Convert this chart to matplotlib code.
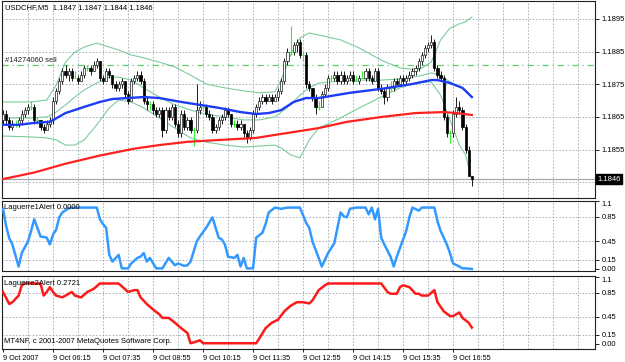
import numpy as np
import matplotlib.pyplot as plt
from matplotlib.transforms import blended_transform_factory

plt.rcParams['font.family'] = ['Liberation Sans', 'DejaVu Sans']

# USDCHF M5, bar 0 = 9 Oct 2007 04:55
opens = [1.1864, 1.1866, 1.1864, 1.1862, 1.1863, 1.1863, 1.1864, 1.1866, 1.1867, 1.1868,
         1.1868, 1.1864, 1.1864, 1.1862, 1.1861, 1.1863, 1.1864, 1.1870, 1.1873, 1.1876,
         1.1879, 1.1878, 1.1879, 1.1877, 1.1877, 1.1876, 1.1878, 1.1880, 1.1880, 1.1879,
         1.1881, 1.1882, 1.1877, 1.1876, 1.1879, 1.1878, 1.1875, 1.1874, 1.1875, 1.1876,
         1.1872, 1.1870, 1.1876, 1.1877, 1.1878, 1.1876, 1.1870, 1.1869, 1.1869, 1.1867,
         1.1866, 1.1867, 1.1861, 1.1867, 1.1865, 1.1868, 1.1863, 1.1860, 1.1866, 1.1862,
         1.1864, 1.1861, 1.1861, 1.1867, 1.1868, 1.1868, 1.1866, 1.1865, 1.1861, 1.1862,
         1.1864, 1.1865, 1.1867, 1.1866, 1.1863, 1.1863, 1.1862, 1.1863, 1.1860, 1.1859,
         1.1861, 1.1866, 1.1868, 1.1870, 1.1871, 1.1870, 1.1871, 1.1870, 1.1871, 1.1873,
         1.1876, 1.1882, 1.1885, 1.1885, 1.1887, 1.1888, 1.1884, 1.1884, 1.1875, 1.1874,
         1.1871, 1.1868, 1.1868, 1.1872, 1.1874, 1.1877, 1.1877, 1.1878, 1.1876, 1.1878,
         1.1876, 1.1877, 1.1878, 1.1876, 1.1876, 1.1877, 1.1877, 1.1879, 1.1877, 1.1876,
         1.1879, 1.1874, 1.1873, 1.1871, 1.1874, 1.1874, 1.1876, 1.1875, 1.1877, 1.1876,
         1.1877, 1.1878, 1.1879, 1.1880, 1.1882, 1.1884, 1.1886, 1.1887, 1.1888, 1.1880,
         1.1878, 1.1877, 1.1865, 1.1860, 1.1860, 1.1866, 1.1868, 1.1867, 1.1862, 1.1855,
         1.1847]
highs = [1.1867, 1.1867, 1.1865, 1.1864, 1.1864, 1.1865, 1.1867, 1.1868, 1.1869, 1.1870,
         1.1869, 1.1865, 1.1864, 1.1863, 1.1864, 1.1865, 1.1871, 1.1874, 1.1877, 1.1880,
         1.1881, 1.1880, 1.1880, 1.1879, 1.1878, 1.1879, 1.1881, 1.1881, 1.1881, 1.1882,
         1.1883, 1.1882, 1.1878, 1.1880, 1.1880, 1.1878, 1.1876, 1.1876, 1.1877, 1.1876,
         1.1873, 1.1877, 1.1878, 1.1879, 1.1879, 1.1877, 1.1871, 1.1870, 1.1870, 1.1868,
         1.1868, 1.1868, 1.1868, 1.1868, 1.1869, 1.1869, 1.1864, 1.1867, 1.1867, 1.1865,
         1.1865, 1.1862, 1.1875, 1.1870, 1.1870, 1.1869, 1.1867, 1.1866, 1.1863, 1.1865,
         1.1866, 1.1868, 1.1868, 1.1866, 1.1864, 1.1864, 1.1864, 1.1863, 1.1861, 1.1862,
         1.1867, 1.1869, 1.1871, 1.1872, 1.1872, 1.1872, 1.1872, 1.1872, 1.1874, 1.1877,
         1.1883, 1.1886, 1.1893, 1.1888, 1.1889, 1.1889, 1.1885, 1.1885, 1.1876, 1.1874,
         1.1872, 1.1870, 1.1873, 1.1875, 1.1878, 1.1878, 1.1879, 1.1879, 1.1879, 1.1879,
         1.1878, 1.1879, 1.1879, 1.1878, 1.1878, 1.1879, 1.1880, 1.1880, 1.1878, 1.1880,
         1.1880, 1.1875, 1.1874, 1.1875, 1.1876, 1.1877, 1.1877, 1.1878, 1.1878, 1.1878,
         1.1879, 1.1880, 1.1881, 1.1883, 1.1885, 1.1887, 1.1888, 1.1890, 1.1889, 1.1881,
         1.1879, 1.1878, 1.1866, 1.1861, 1.1867, 1.1871, 1.1870, 1.1868, 1.1863, 1.1856,
         1.1847]
lows = [1.1863, 1.1863, 1.1861, 1.1861, 1.1862, 1.1862, 1.1863, 1.1865, 1.1866, 1.1867,
        1.1863, 1.1863, 1.1861, 1.1860, 1.1861, 1.1862, 1.1863, 1.1869, 1.1872, 1.1875,
        1.1877, 1.1876, 1.1876, 1.1877, 1.1875, 1.1876, 1.1877, 1.1879, 1.1878, 1.1879,
        1.1880, 1.1876, 1.1875, 1.1876, 1.1877, 1.1874, 1.1873, 1.1873, 1.1874, 1.1871,
        1.1869, 1.1870, 1.1875, 1.1876, 1.1875, 1.1869, 1.1867, 1.1867, 1.1866, 1.1865,
        1.1865, 1.1859, 1.1860, 1.1864, 1.1864, 1.1862, 1.1859, 1.1859, 1.1861, 1.1861,
        1.1860, 1.1856, 1.1860, 1.1866, 1.1867, 1.1865, 1.1864, 1.1860, 1.1860, 1.1861,
        1.1863, 1.1864, 1.1865, 1.1862, 1.1862, 1.1861, 1.1861, 1.1859, 1.1857, 1.1858,
        1.1860, 1.1865, 1.1867, 1.1869, 1.1869, 1.1870, 1.1869, 1.1870, 1.1870, 1.1872,
        1.1875, 1.1881, 1.1884, 1.1884, 1.1885, 1.1883, 1.1882, 1.1874, 1.1873, 1.1870,
        1.1866, 1.1867, 1.1868, 1.1871, 1.1873, 1.1876, 1.1876, 1.1875, 1.1875, 1.1875,
        1.1875, 1.1876, 1.1875, 1.1876, 1.1875, 1.1877, 1.1876, 1.1876, 1.1875, 1.1876,
        1.1873, 1.1872, 1.1869, 1.1870, 1.1873, 1.1873, 1.1875, 1.1875, 1.1875, 1.1875,
        1.1876, 1.1877, 1.1878, 1.1879, 1.1881, 1.1883, 1.1885, 1.1886, 1.1879, 1.1877,
        1.1876, 1.1864, 1.1859, 1.1857, 1.1859, 1.1865, 1.1866, 1.1861, 1.1854, 1.1847,
        1.1844]
closes = [1.1866, 1.1864, 1.1862, 1.1863, 1.1863, 1.1864, 1.1866, 1.1867, 1.1868, 1.1868,
          1.1864, 1.1864, 1.1862, 1.1861, 1.1863, 1.1864, 1.1870, 1.1873, 1.1876, 1.1879,
          1.1878, 1.1879, 1.1877, 1.1877, 1.1876, 1.1878, 1.1880, 1.1880, 1.1879, 1.1881,
          1.1882, 1.1877, 1.1876, 1.1879, 1.1878, 1.1875, 1.1874, 1.1875, 1.1876, 1.1872,
          1.1870, 1.1876, 1.1877, 1.1878, 1.1876, 1.1870, 1.1869, 1.1869, 1.1867, 1.1866,
          1.1867, 1.1861, 1.1867, 1.1865, 1.1868, 1.1863, 1.1860, 1.1866, 1.1862, 1.1864,
          1.1861, 1.1861, 1.1867, 1.1868, 1.1868, 1.1866, 1.1865, 1.1861, 1.1862, 1.1864,
          1.1865, 1.1867, 1.1866, 1.1863, 1.1863, 1.1862, 1.1863, 1.1860, 1.1859, 1.1861,
          1.1866, 1.1868, 1.1870, 1.1871, 1.1870, 1.1871, 1.1870, 1.1871, 1.1873, 1.1876,
          1.1882, 1.1885, 1.1885, 1.1887, 1.1888, 1.1884, 1.1884, 1.1875, 1.1874, 1.1871,
          1.1868, 1.1868, 1.1872, 1.1874, 1.1877, 1.1877, 1.1878, 1.1876, 1.1878, 1.1876,
          1.1877, 1.1878, 1.1876, 1.1876, 1.1877, 1.1877, 1.1879, 1.1877, 1.1876, 1.1879,
          1.1874, 1.1873, 1.1871, 1.1874, 1.1874, 1.1876, 1.1875, 1.1877, 1.1876, 1.1877,
          1.1878, 1.1879, 1.1880, 1.1882, 1.1884, 1.1886, 1.1887, 1.1888, 1.1880, 1.1878,
          1.1877, 1.1865, 1.1860, 1.1860, 1.1866, 1.1868, 1.1867, 1.1862, 1.1855, 1.1847,
          1.1846]

# moving averages (read at a few bars)
blue_bars = [-1, 5, 10, 15, 20, 26, 31, 35, 40, 45, 50, 57, 63, 69, 76, 81, 85, 89, 93,
             97, 101, 111, 121, 131, 137, 139, 143, 147, 150]
blue_vals = [1.18626, 1.18626, 1.18632, 1.18635, 1.18662, 1.18681, 1.18696, 1.18705,
             1.18708, 1.18711, 1.18708, 1.18696, 1.18687, 1.18678, 1.18665, 1.18659,
             1.18662, 1.18671, 1.18696, 1.18708, 1.18708, 1.18724, 1.18736, 1.18751,
             1.18763, 1.18763, 1.18754, 1.18739, 1.18711]
red_bars = [-1, 10, 20, 31, 42, 50, 59, 70, 81, 91, 101, 110, 121, 132, 141, 145, 150]
red_vals = [1.18458, 1.18480, 1.18507, 1.18532, 1.18553, 1.18564, 1.18574, 1.18580,
            1.18586, 1.18601, 1.18616, 1.18635, 1.18650, 1.18662, 1.18665, 1.18662, 1.18656]

# bollinger bands
band_bars = [-1, 9, 14, 17, 20, 23, 26, 30, 34, 37, 41, 45, 50, 55, 60, 65, 71, 77, 82,
             87, 89, 92, 95, 98, 101, 108, 114, 121, 127, 133, 137, 140, 143, 146, 148, 150]
band_upper = [1.18696, 1.18696, 1.18702, 1.18748, 1.18818, 1.18849, 1.18864, 1.18876,
              1.18864, 1.18855, 1.18840, 1.18831, 1.18818, 1.18803, 1.18778, 1.18751,
              1.18739, 1.18730, 1.18724, 1.18727, 1.18763, 1.18840, 1.18892, 1.18907,
              1.18901, 1.18886, 1.18861, 1.18824, 1.18800, 1.18794, 1.18818, 1.18886,
              1.18922, 1.18935, 1.18941, 1.18956]
band_mid = [1.18647, 1.18647, 1.18650, 1.18665, 1.18687, 1.18711, 1.18733, 1.18754,
            1.18772, 1.18772, 1.18763, 1.18739, 1.18711, 1.18687, 1.18671, 1.18659,
            1.18650, 1.18641, 1.18641, 1.18650, 1.18665, 1.18687, 1.18717, 1.18739,
            1.18754, 1.18760, 1.18763, 1.18763, 1.18766, 1.18775, 1.18785, 1.18778,
            1.18757, 1.18742, 1.18733, 1.18711]
band_lower = [1.18592, 1.18589, 1.18586, 1.18580, 1.18564, 1.18564, 1.18580, 1.18626,
              1.18678, 1.18702, 1.18696, 1.18678, 1.18647, 1.18616, 1.18586, 1.18573,
              1.18564, 1.18558, 1.18561, 1.18564, 1.18555, 1.18534, 1.18525, 1.18580,
              1.18616, 1.18647, 1.18678, 1.18711, 1.18739, 1.18757, 1.18757, 1.18717,
              1.18641, 1.18564, 1.18534, 1.18457]

# Laguerre indicators
lag1_bars = [0, 1, 2, 3, 5, 6, 8, 9, 10, 11, 12, 14, 15, 16, 17, 18, 19, 21, 23, 30,
             31, 32, 33, 34, 35, 37, 38, 40, 41, 43, 44, 45, 46, 47, 49, 51, 53, 54, 55, 56,
             58, 59, 60, 62, 63, 65, 67, 69, 70, 71, 72, 74, 75, 76, 77, 78, 80, 81, 83, 84,
             85, 87, 89, 91, 95, 97, 98, 99, 101, 102, 103, 104, 106, 108, 109, 110, 111, 113, 116, 117,
             118, 119, 120, 121, 122, 124, 125, 126, 127, 129, 130, 131, 133, 134, 138, 139, 140, 142, 143, 144,
             146, 147, 148, 150]
lag1_vals = [0.98, 0.70, 0.50, 0.40, 0.04, 0.26, 0.45, 0.62, 0.81, 0.67,
             0.53, 0.51, 0.40, 0.56, 0.64, 0.84, 0.92, 0.99, 1.0, 1.0,
             0.81, 0.73, 0.67, 0.23, 0.12, 0.23, 0.01, 0.01, 0.09, 0.18,
             0.20, 0.26, 0.12, 0.18, 0.01, 0.01, 0.18, 0.12, 0.06, 0.09,
             0.05, 0.06, 0.12, 0.45, 0.53, 0.67, 0.84, 0.51, 0.48, 0.40,
             0.20, 0.18, 0.23, 0.04, 0.18, 0.01, 0.01, 0.51, 0.59, 0.73,
             0.92, 1.0, 0.98, 1.0, 1.0, 0.75, 0.67, 0.45, 0.18, 0.04,
             0.15, 0.26, 0.42, 0.92, 0.86, 0.84, 0.98, 1.0, 1.0, 0.89,
             1.0, 0.81, 0.98, 0.51, 0.40, 0.20, 0.04, 0.20, 0.34, 0.62,
             0.84, 1.0, 0.95, 1.0, 1.0, 0.78, 0.62, 0.40, 0.26, 0.09,
             0.04, 0.01, 0.01, 0.0]
lag2_bars = [0, 2, 3, 5, 6, 7, 12, 13, 14, 15, 16, 17, 19, 20, 22, 23, 25, 27,
             29, 31, 37, 40, 42, 43, 44, 46, 48, 50, 51, 53, 55, 57, 59, 60, 62, 63,
             64, 69, 81, 82, 84, 86, 88, 90, 92, 94, 96, 98, 99, 101, 103, 104, 121, 123,
             124, 126, 127, 128, 130, 132, 133, 134, 136, 138, 139, 141, 143, 144, 146, 147, 149, 150]
lag2_vals = [0.86, 0.66, 0.69, 0.80, 0.97, 1.0, 1.0, 0.80, 0.86, 0.94, 0.86, 0.80,
             0.77, 0.80, 0.86, 0.80, 0.77, 0.86, 0.91, 1.0, 1.0, 0.86, 0.89, 0.89,
             0.77, 0.66, 0.57, 0.49, 0.43, 0.43, 0.35, 0.26, 0.18, 0.01, 0.04, 0.06,
             0.01, 0.01, 0.01, 0.09, 0.26, 0.35, 0.40, 0.54, 0.63, 0.69, 0.69, 0.67,
             0.72, 0.89, 0.97, 1.0, 1.0, 0.86, 0.83, 0.83, 0.94, 0.97, 0.94, 0.83,
             0.83, 0.80, 0.80, 0.89, 0.69, 0.54, 0.46, 0.46, 0.52, 0.43, 0.35, 0.27]

time_bars = [0, 16, 32, 48, 64, 80, 96, 112, 128, 144]
time_labels = ['9 Oct 2007', '9 Oct 06:15', '9 Oct 07:35', '9 Oct 08:55', '9 Oct 10:15',
               '9 Oct 11:35', '9 Oct 12:55', '9 Oct 14:15', '9 Oct 15:35', '9 Oct 16:55']
price_ticks = [1.1855, 1.1865, 1.1875, 1.1885, 1.1895]
price_grid = [1.1845, 1.1855, 1.1865, 1.1875, 1.1885, 1.1895]
ind_ticks = [0.0, 0.15, 0.45, 0.85, 1.1]
ind_labels = ['0.00', '0.15', '0.45', '0.85', '1.1']
order_price = 1.18809
bid = 1.1846

W, H = 625, 362
fig = plt.figure(figsize=(W / 100, H / 100), dpi=100)
fig.patch.set_facecolor('white')
ax1 = fig.add_axes([2 / W, 1 - 198 / H, 593 / W, 197 / H])
ax2 = fig.add_axes([2 / W, 1 - 271 / H, 593 / W, 70 / H])
ax3 = fig.add_axes([2 / W, 1 - 349 / H, 593 / W, 73 / H])

grid_kw = dict(color='#9ea8b6', lw=0.6, dashes=(2, 2), zorder=0)
for ax in (ax1, ax2, ax3):
    ax.set_xlim(-0.32, 189.4)
    for b in range(8, 190, 8):
        ax.axvline(b, **grid_kw)
    for s in ax.spines.values():
        s.set_color('#202020')
        s.set_linewidth(0.8)
    ax.yaxis.tick_right()
    ax.tick_params(axis='y', direction='out', length=3, width=0.6, pad=1.5,
                   labelsize=5.5, colors='black')
    ax.tick_params(axis='x', length=0, labelbottom=False)

# main price panel
ax1.set_ylim(1.18402, 1.19005)
ax1.set_yticks(price_ticks)
ax1.set_yticklabels(['%.4f' % p for p in price_ticks])
for p in price_grid:
    ax1.axhline(p, **grid_kw)

x = np.arange(len(closes))
o = np.array(opens)
c = np.array(closes)
h = np.array(highs)
l = np.array(lows)
up = c > o + 1e-7
dn = c < o - 1e-7
dj = ~(up | dn)

ax1.plot(band_bars, band_upper, color='#7ccc9a', lw=0.8, zorder=2)
ax1.plot(band_bars, band_mid, color='#7ccc9a', lw=0.8, zorder=2)
ax1.plot(band_bars, band_lower, color='#7ccc9a', lw=0.8, zorder=2)

ax1.vlines(x[~dj], l[~dj], h[~dj], color='#1a1a1a', lw=0.7, zorder=3)
ax1.vlines(x[dj], l[dj], h[dj], color='#33ee33', lw=0.8, zorder=3)
ax1.hlines(c[dj], x[dj] - 0.4, x[dj] + 0.4, color='#33ee33', lw=0.8, zorder=3)
ax1.bar(x[up], c[up] - o[up], bottom=o[up], width=0.7, color='white',
        edgecolor='#1a1a1a', lw=0.5, zorder=4)
ax1.bar(x[dn], o[dn] - c[dn], bottom=c[dn], width=0.7, color='black',
        edgecolor='black', lw=0.5, zorder=4)

ax1.plot(red_bars, red_vals, color='#ff2020', lw=1.6, zorder=5)
ax1.plot(blue_bars, blue_vals, color='#1c3cf5', lw=1.7, zorder=5)

ax1.axhline(order_price, color='#66cc66', lw=0.9, dashes=(5, 3, 1, 3), zorder=1)
ax1.text(0.6, order_price + 0.00003, '#14274060 sell', fontsize=5.5, va='bottom',
         ha='left', color='#202020')
ax1.axhline(bid, color='#a8a8a8', lw=0.9, zorder=1)
tr = blended_transform_factory(ax1.transAxes, ax1.transData)
ax1.text(1.004, bid, '1.1846', transform=tr, fontsize=5.5, color='white', va='center',
         ha='left', zorder=6, clip_on=False,
         bbox=dict(boxstyle='square,pad=0.15', fc='black', ec='black'))
ax1.text(0.005, 0.985, 'USDCHF,M5  1.1847 1.1847 1.1844 1.1846', transform=ax1.transAxes,
         fontsize=5.5, va='top', ha='left')

# indicator panels
for ax, lo, hi in ((ax2, -0.033, 1.107), (ax3, -0.085, 1.124)):
    ax.set_ylim(lo, hi)
    ax.set_yticks(ind_ticks)
    ax.set_yticklabels(ind_labels)
    ax.get_yticklabels()[-1].set_va('top')
    for v in (0.15, 0.45, 0.85):
        ax.axhline(v, **grid_kw)

ax2.plot(lag1_bars, lag1_vals, color='#3399ff', lw=1.8, zorder=3)
ax2.text(0.004, 0.91, 'Laguerre1Alert 0.0000', transform=ax2.transAxes, fontsize=5.5,
         va='center', ha='left', zorder=4)

ax3.plot(lag2_bars, lag2_vals, color='#ff1a1a', lw=1.8, zorder=3)
ax3.text(0.004, 0.90, 'Laguerre2Alert 0.2721', transform=ax3.transAxes, fontsize=5.5,
         va='center', ha='left', zorder=4)
ax3.text(0.004, 0.10, 'MT4NF, c 2001-2007 MetaQuotes Software Corp.',
         transform=ax3.transAxes, fontsize=5.5, va='center', ha='left', zorder=4)

ax3.set_xticks(time_bars)
ax3.set_xticklabels(time_labels)
ax3.tick_params(axis='x', length=2.5, width=0.6, direction='out', pad=1.5,
                labelsize=5.2, labelbottom=True)
for lbl in ax3.get_xticklabels():
    lbl.set_ha('left')

fig.savefig('out.png', dpi=100)
